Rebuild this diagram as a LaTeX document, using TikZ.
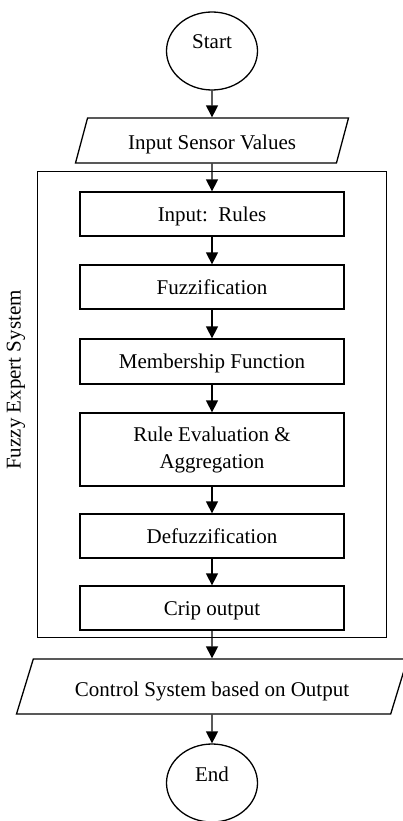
\documentclass[tikz,border=0pt]{standalone}
\usepackage{fontspec}
\setmainfont{Liberation Serif}
\usetikzlibrary{positioning,shapes.geometric,arrows.meta}

\begin{document}
\begin{tikzpicture}[x=1pt,y=-1pt,font=\fontsize{21}{27}\selectfont,
  term/.style={draw,ellipse,line width=1.3pt,minimum width=91pt,minimum height=78pt,inner sep=0pt,text height=12pt,text depth=16pt},
  io/.style={draw,trapezium,trapezium stretches body=true,line width=1.3pt,inner xsep=0pt,text height=19pt,text depth=0pt},
  box/.style={draw,rectangle,line width=1.3pt,minimum width=264pt,minimum height=44pt,inner sep=0pt},
  proc/.style={box,text height=14pt,text depth=0pt},
  flow/.style={-{Triangle[width=12pt,length=12pt]},line width=1.4pt}]
\useasboundingbox (0,0) rectangle (403,821);
\node[draw,line width=1pt,minimum width=349pt,minimum height=465pt,inner sep=0pt] (fes) at (211.5,404.5) {};
\node[rotate=90] (fesl) at (16,380) {Fuzzy Expert System};
%
\node[term] (start) at (212,51) {Start};
\node[io,trapezium left angle=75,trapezium right angle=105,minimum width=273pt,inner ysep=13pt] (in) at (212,140.5) {Input Sensor Values};
\node[proc] (rules) at (212,214) {Input:\ \ Rules};
\node[proc] (fuzz) at (212,287) {Fuzzification};
\node[proc,minimum height=45pt] (memb) at (212,361.5) {Membership Function};
\node[box,minimum height=73pt,align=center] (eval) at (212,449.5) {Rule Evaluation \&\\Aggregation};
\node[proc] (defuzz) at (212,536) {Defuzzification};
\node[proc] (crip) at (212,608) {Crip output};
\node[io,trapezium left angle=73,trapezium right angle=107,minimum width=391pt,inner ysep=18pt] (ctrl) at (212,686.5) {Control System based on Output};
\node[term] (end) at (212,783) {End};
%
\draw[flow] (start) -- (in);
\draw[flow] (in) -- (rules);
\draw[flow] (rules) -- (fuzz);
\draw[flow] (fuzz) -- (memb);
\draw[flow] (memb) -- (eval);
\draw[flow] (eval) -- (defuzz);
\draw[flow] (defuzz) -- (crip);
\draw[flow] (crip) -- (ctrl);
\draw[flow] (ctrl) -- (end);
\end{tikzpicture}
\end{document}
